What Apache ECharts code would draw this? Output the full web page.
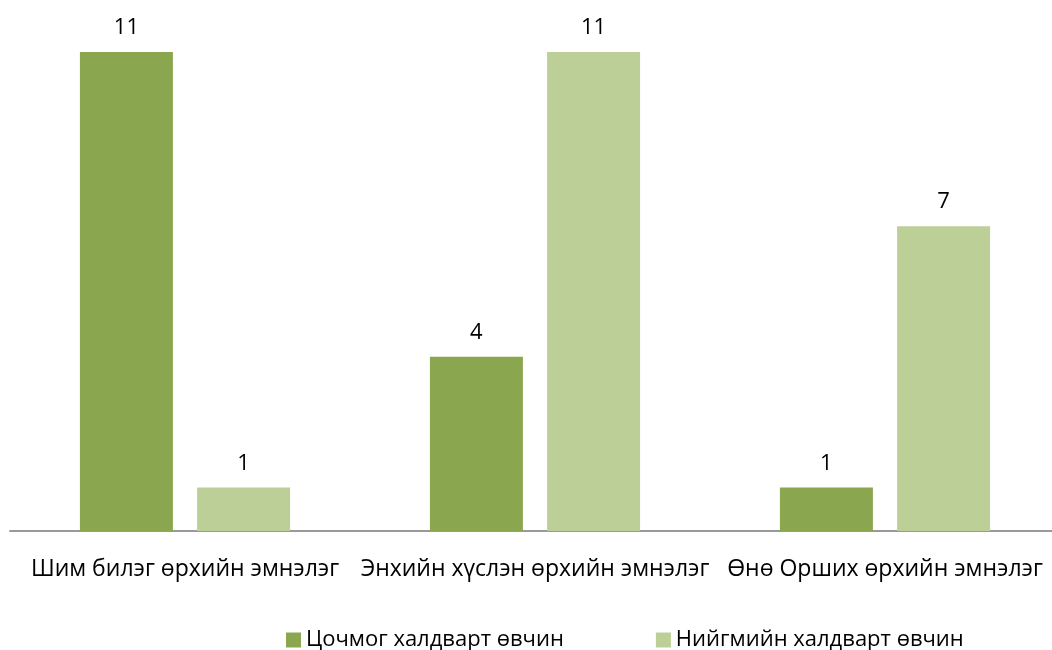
<!DOCTYPE html>
<html>
<head>
<meta charset="utf-8">
<script src="https://cdn.jsdelivr.net/npm/echarts@6/dist/echarts.min.js"></script>
<style>
  html, body { margin: 0; padding: 0; background: #fff; }
  #main { width: 1052px; height: 650px; }
</style>
</head>
<body>
<div id="main"></div>
<script>
var categories = ['Шим билэг өрхийн эмнэлэг', 'Энхийн хүслэн өрхийн эмнэлэг', 'Өнө Орших өрхийн эмнэлэг'];
var seriesNames = ['Цочмог халдварт өвчин', 'Нийгмийн халдварт өвчин'];
var acuteValues = [11, 4, 1];
var socialValues = [1, 11, 7];

var font = 'Open Sans';

var chart = echarts.init(document.getElementById('main'));

var option = {
	animation: false,
	color: ['#8AA64F', '#BBCF97'],
	legend: {
		data: seriesNames,
		top: 624,
		left: 281,
		itemWidth: 15,
		itemHeight: 15,
		itemGap: 92,
		icon: 'rect',
		textStyle: {
			fontFamily: font,
			fontSize: 22,
			color: '#000'
		}
	},
	grid: {
		left: 10,
		top: 8.5,
		width: 1050,
		height: 522.5,
		outerBoundsMode: 'none'
	},
	xAxis: {
		type: 'category',
		data: categories,
		axisLine: {
			lineStyle: { color: '#999', width: 2 }
		},
		axisTick: { show: false },
		axisLabel: {
			margin: 27,
			fontFamily: font,
			fontSize: 23,
			color: '#000',
			interval: 0
		}
	},
	yAxis: {
		type: 'value',
		min: 0,
		max: 12,
		show: false,
		splitLine: { show: false }
	},
	series: [{
		name: seriesNames[0],
		type: 'bar',
		data: acuteValues,
		barWidth: 93,
		barGap: '26%',
		label: {
			show: true,
			position: 'top',
			distance: 13,
			fontFamily: font,
			fontSize: 22,
			color: '#000'
		}
	}, {
		name: seriesNames[1],
		type: 'bar',
		data: socialValues,
		barWidth: 93,
		label: {
			show: true,
			position: 'top',
			distance: 13,
			fontFamily: font,
			fontSize: 22,
			color: '#000'
		}
	}]
};

chart.setOption(option);
</script>
</body>
</html>
